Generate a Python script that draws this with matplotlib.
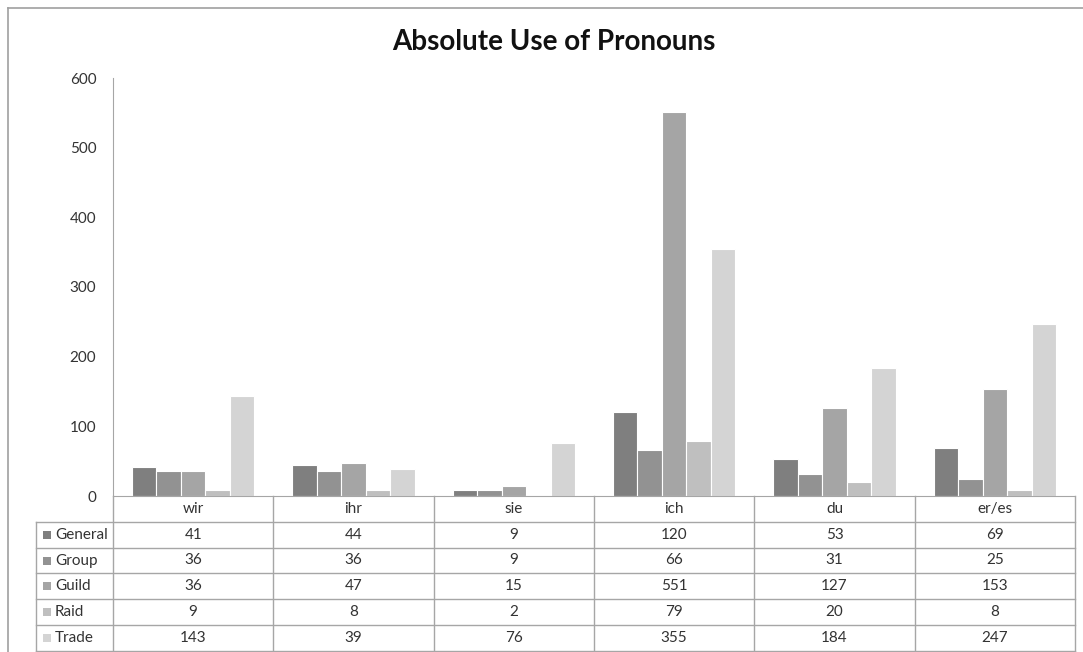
import numpy as np
import matplotlib.pyplot as plt
from matplotlib.transforms import blended_transform_factory
from matplotlib.patches import Rectangle

plt.rcParams['font.family'] = ['Lato', 'DejaVu Sans']

# data
pronouns = ['wir', 'ihr', 'sie', 'ich', 'du', 'er/es']
series = ['General', 'Group', 'Guild', 'Raid', 'Trade']
general = [41, 44, 9, 120, 53, 69]
group = [36, 36, 9, 66, 31, 25]
guild = [36, 47, 15, 551, 127, 153]
raid = [9, 8, 2, 79, 20, 8]
trade = [143, 39, 76, 355, 184, 247]
values = [general, group, guild, raid, trade]
colors = ['#7f7f7f', '#929292', '#a5a5a5', '#bfbfbf', '#d4d4d4']

W, H = 1083, 652
fig = plt.figure(figsize=(W / 100, H / 100), dpi=100)

# overlay in pixel coords for frame / table
ov = fig.add_axes([0, 0, 1, 1])
ov.set_xlim(0, W)
ov.set_ylim(H, 0)
ov.axis('off')

line_c = '#a6a6a6'
ov.plot([8, W], [8, 8], color='#a0a0a0', lw=1.2)
ov.plot([8, 8], [8, H], color='#a0a0a0', lw=1.2)

x0, x1, y0, ytop = 113, 1075, 496, 78
ax = fig.add_axes([x0 / W, 1 - y0 / H, (x1 - x0) / W, (y0 - ytop) / H])
ax.set_xlim(0, len(pronouns))
ax.set_ylim(0, 600)
ax.set_yticks(range(0, 601, 100))
ax.set_xticks([])
ax.tick_params(axis='y', length=0, pad=12, labelsize=11, labelcolor='#333333')
for s in ['top', 'right']:
    ax.spines[s].set_visible(False)
for s in ['left', 'bottom']:
    ax.spines[s].set_color(line_c)
ax.patch.set_alpha(0)

x = np.arange(len(pronouns)) + 0.5
bw = 0.153
for i, (vals, c) in enumerate(zip(values, colors)):
    ax.bar(x + (i - 2) * bw, vals, width=bw, color=c, edgecolor='white', linewidth=0.8)

fig.text(554 / W, 1 - 42 / H, 'Absolute Use of Pronouns', fontsize=20, fontweight='bold',
         ha='center', va='center', color='#111111')

# data table
tr = blended_transform_factory(ax.transData, ov.transData)
rh = 25.8
ncol = len(pronouns)
txt_c = '#333333'
fs = 11
# vertical lines between columns
for k in range(ncol + 1):
    ov.plot([k, k], [y0, y0 + 6 * rh], color=line_c, lw=1, transform=tr)
# header text
for k, p in enumerate(pronouns):
    ov.text(k + 0.5, y0 + rh / 2, p, ha='center', va='center', fontsize=fs, color=txt_c, transform=tr)
# row lines
for r in range(1, 7):
    yy = y0 + r * rh
    ov.plot([36, x1], [yy, yy], color=line_c, lw=1)
ov.plot([36, 36], [y0 + rh, y0 + 6 * rh], color=line_c, lw=1)
for r, (name, vals, c) in enumerate(zip(series, values, colors)):
    yc = y0 + (r + 1.5) * rh
    ov.add_patch(Rectangle((43, yc - 4), 8, 8, facecolor=c, edgecolor='none'))
    ov.text(55, yc, name, ha='left', va='center', fontsize=fs, color=txt_c)
    for k, v in enumerate(vals):
        ov.text(k + 0.5, yc, str(v), ha='center', va='center', fontsize=fs, color=txt_c, transform=tr)

fig.savefig('out.png', dpi=100)
